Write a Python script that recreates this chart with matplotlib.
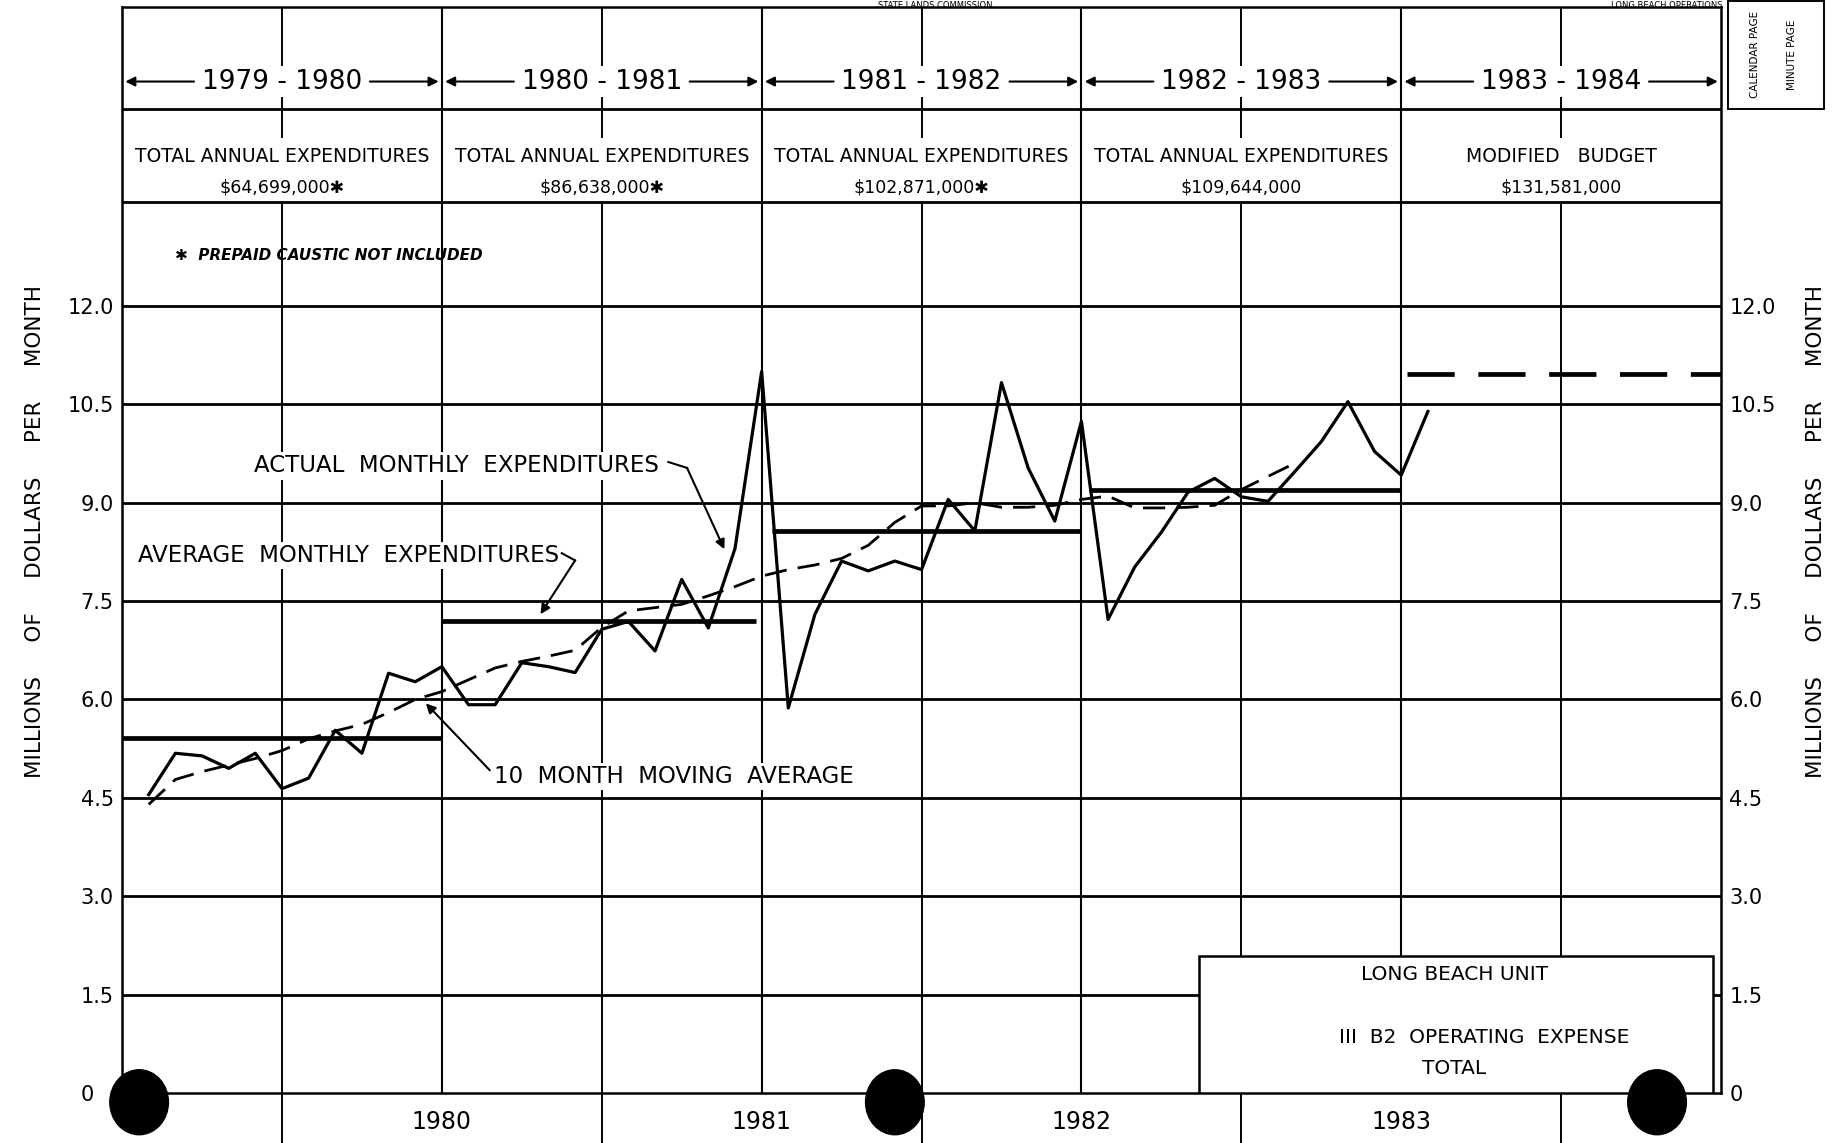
import matplotlib

matplotlib.use("Agg")
import matplotlib.pyplot as plt
import numpy as np
from matplotlib.patches import Ellipse, Rectangle
from matplotlib.transforms import ScaledTranslation


# months counted from July 1979 (start of fiscal year 1979-1980)
actual_months = np.arange(1, 50)
actual_spend = [
    4.55, 5.18, 5.14, 4.95, 5.18, 4.64, 4.80, 5.53, 5.18, 6.40,
    6.27, 6.50, 5.92, 5.92, 6.56, 6.50, 6.41, 7.07, 7.19, 6.74,
    7.83, 7.09, 8.30, 11.00, 5.87, 7.30, 8.11, 7.96, 8.11, 7.98,
    9.05, 8.57, 10.83, 9.53, 8.72, 10.24, 7.22, 8.02, 8.55, 9.16,
    9.37, 9.09, 9.02, 9.47, 9.93, 10.54, 9.78, 9.42, 10.39,
]
avg_months = np.arange(1, 45)
moving_avg = [
    4.40, 4.78, 4.90, 5.00, 5.10, 5.22, 5.40, 5.52, 5.62, 5.80,
    6.00, 6.12, 6.30, 6.48, 6.58, 6.66, 6.75, 7.10, 7.35, 7.40,
    7.45, 7.58, 7.72, 7.88, 7.98, 8.05, 8.15, 8.35, 8.70, 8.95,
    8.95, 9.00, 8.93, 8.93, 8.96, 9.05, 9.10, 8.92, 8.92, 8.93,
    8.96, 9.20, 9.40, 9.60,
]

fiscal_years = ["1979 - 1980", "1980 - 1981", "1981 - 1982", "1982 - 1983", "1983 - 1984"]
fy_start = [0, 12, 24.4, 36.3, 48.2]
fy_end = [12, 23.8, 36, 48, 60]
fy_monthly_avg = [5.42, 7.20, 8.57, 9.20, 10.96]
fy_heading = ["TOTAL ANNUAL EXPENDITURES"] * 4 + ["MODIFIED   BUDGET"]
fy_amount = ["$64,699,000\u2731", "$86,638,000\u2731", "$102,871,000\u2731", "$109,644,000", "$131,581,000"]

y_ticks = [0, 1.5, 3.0, 4.5, 6.0, 7.5, 9.0, 10.5, 12.0]
y_tick_labels = ["0", "1.5", "3.0", "4.5", "6.0", "7.5", "9.0", "10.5", "12.0"]
year_labels = ["1980", "1981", "1982", "1983"]
year_label_months = [12, 24, 36, 48]
january_months = [6, 18, 30, 42, 54]

YEAR_ROW = 15.42
HEAD_ROW = 14.28
AMOUNT_ROW = 13.80
TOP = 16.555
WHITE = {"facecolor": "white", "edgecolor": "none", "pad": 1.5}
ARROW = {"arrowstyle": "-|>", "lw": 1.5, "color": "black", "mutation_scale": 14,
         "shrinkA": 0, "shrinkB": 0}

plt.rcParams["font.family"] = ["DejaVu Sans"]

fig = plt.figure(figsize=(18.44, 11.43), dpi=100)
ax = fig.add_axes([0.0662, 0.0437, 0.8671, 0.9501])
ax.set_xlim(0, 60)
ax.set_ylim(0, TOP)
for spine in ax.spines.values():
    spine.set_linewidth(1.8)

# grid: horizontal value lines, header rules, vertical half-year lines
for value in y_ticks[1:]:
    ax.axhline(value, color="black", lw=2.0, zorder=1)
ax.axhline(15.0, color="black", lw=2.0, zorder=1)
ax.axhline(13.58, color="black", lw=2.0, zorder=1)
for start in [12, 24, 36, 48]:
    ax.axvline(start, color="black", lw=1.5, zorder=1)
for month in january_months:
    ax.vlines(month, 0, 13.58, color="black", lw=1.4, zorder=1)
    ax.vlines(month, 14.56, TOP, color="black", lw=1.4, zorder=1)

# data
ax.plot(actual_months, actual_spend, color="black", lw=2.3, zorder=4)
ax.plot(avg_months, moving_avg, color="black", lw=2.0, dashes=(8, 4), zorder=4)
for start, end, value in zip(fy_start[:4], fy_end[:4], fy_monthly_avg[:4]):
    ax.plot([start, end], [value, value], color="black", lw=3.4, zorder=4, solid_capstyle="butt")
ax.plot([fy_start[4], fy_end[4]], [fy_monthly_avg[4]] * 2, color="black", lw=3.4,
        dashes=(10, 5), zorder=4)

# header rows
for k, label in enumerate(fiscal_years):
    centre = 12 * k + 6
    ax.text(centre, YEAR_ROW, label, ha="center", va="center", fontsize=19, bbox=WHITE, zorder=3)
    ax.annotate("", xy=(12 * k + 0.12, YEAR_ROW), xytext=(centre - 3.3, YEAR_ROW), arrowprops=ARROW)
    ax.annotate("", xy=(12 * k + 11.88, YEAR_ROW), xytext=(centre + 3.3, YEAR_ROW), arrowprops=ARROW)
    ax.text(centre, HEAD_ROW, fy_heading[k], ha="center", va="center", fontsize=13.5, bbox=WHITE, zorder=3)
    ax.text(centre, AMOUNT_ROW, fy_amount[k], ha="center", va="center", fontsize=12.5, bbox=WHITE, zorder=3)

ax.text(2.0, 12.77, "\u2731  PREPAID CAUSTIC NOT INCLUDED", ha="left", va="center", fontsize=11,
        style="italic", weight="bold", zorder=3)

# callouts
ax.text(4.95, 9.56, "ACTUAL  MONTHLY  EXPENDITURES", ha="left", va="center", fontsize=16.5,
        bbox=WHITE, zorder=3)
ax.plot([20.5, 21.2], [9.62, 9.53], color="black", lw=1.5, zorder=3)
ax.annotate("", xy=(22.6, 8.29), xytext=(21.2, 9.53), arrowprops=ARROW)
ax.text(0.6, 8.20, "AVERAGE  MONTHLY  EXPENDITURES", ha="left", va="center", fontsize=16.5,
        bbox=WHITE, zorder=3)
ax.plot([16.5, 17.0], [8.23, 8.12], color="black", lw=1.5, zorder=3)
ax.annotate("", xy=(15.7, 7.30), xytext=(17.0, 8.12), arrowprops=ARROW)
ax.text(13.95, 4.83, "10  MONTH  MOVING  AVERAGE", ha="left", va="center", fontsize=16.5,
        bbox=WHITE, zorder=3)
ax.annotate("", xy=(11.4, 5.94), xytext=(13.8, 4.92), arrowprops=ARROW)

# title block
ax.add_patch(Rectangle((40.4, 0), 19.3, 2.09, facecolor="white", edgecolor="black", lw=1.8, zorder=5))
ax.text(50.0, 1.80, "LONG BEACH UNIT", ha="center", va="center", fontsize=14.5, zorder=6)
ax.text(51.1, 0.85, "III  B2  OPERATING  EXPENSE", ha="center", va="center", fontsize=14.5, zorder=6)
ax.text(50.0, 0.38, "TOTAL", ha="center", va="center", fontsize=14.5, zorder=6)

# axes ticks
ax.set_yticks(y_ticks)
ax.set_yticklabels(y_tick_labels)
ax.tick_params(axis="y", length=0, labelsize=15, pad=6, labelright=True)
# the zero label sits left of the binder hole on the sheet
zero_label = ax.yaxis.get_major_ticks()[0].label1
zero_label.set_transform(zero_label.get_transform() + ScaledTranslation(-14 / 72, 0, fig.dpi_scale_trans))
ax.set_xticks(january_months)
ax.set_xticklabels([])
ax.tick_params(axis="x", which="major", direction="out", length=36, width=1.4)
ax.set_xticks(year_label_months, minor=True)
ax.set_xticklabels(year_labels, minor=True)
ax.tick_params(axis="x", which="minor", length=0, pad=12, labelsize=17)

axis_label = "MILLIONS     OF     DOLLARS     PER     MONTH"
fig.text(0.019, 0.5346, axis_label, rotation=90, ha="center", va="center", fontsize=15.5)
fig.text(0.985, 0.5346, axis_label, rotation=90, ha="center", va="center", fontsize=15.5)

# binder holes of the scanned sheet
for centre in [0.64, 29.0, 57.6]:
    ax.add_patch(Ellipse((centre, -0.14), 2.2, 0.99, color="black", clip_on=False, zorder=10))

# stamp box and page headings
fig.add_artist(Rectangle((0.937, 0.905), 0.052, 0.094, transform=fig.transFigure,
                         facecolor="none", edgecolor="black", lw=1.4))
fig.text(0.952, 0.952, "CALENDAR PAGE", rotation=90, ha="center", va="center", fontsize=7.5)
fig.text(0.972, 0.952, "MINUTE PAGE", rotation=90, ha="center", va="center", fontsize=7.5)
fig.text(0.507, 0.9995, "STATE LANDS COMMISSION", ha="center", va="top", fontsize=6)
fig.text(0.934, 0.9995, "LONG BEACH OPERATIONS", ha="right", va="top", fontsize=6)

fig.savefig("out.png", dpi=100)
